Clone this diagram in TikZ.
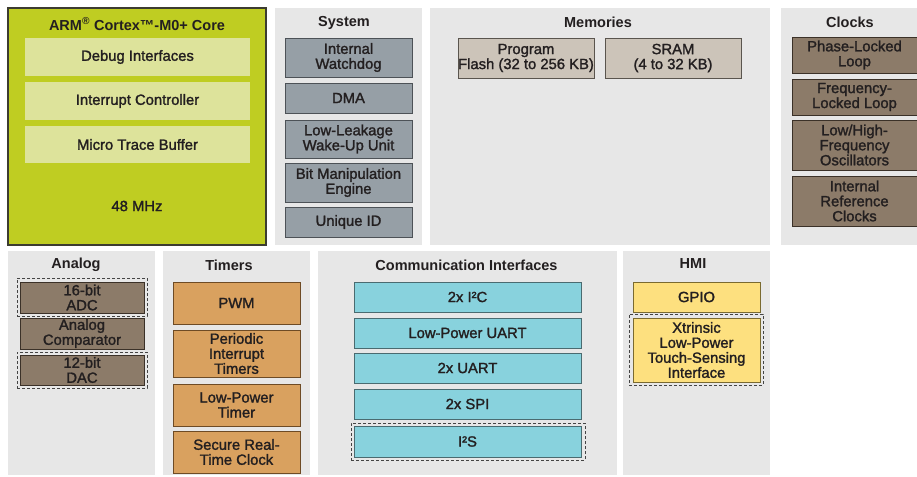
\documentclass[tikz,border=0pt]{standalone}
\usepackage{fontspec}
\setmainfont{Liberation Sans}
\newfontfamily\boxfont[FakeBold=1.6]{Liberation Sans}
\usetikzlibrary{positioning}

\definecolor{ink}{HTML}{231F20}
\definecolor{panelgray}{HTML}{E7E7E7}
\definecolor{coregreen}{HTML}{BFCD22}
\definecolor{coreedge}{HTML}{3C3C30}
\definecolor{coreinner}{HTML}{DDE39B}
\definecolor{sysgray}{HTML}{969FA6}
\definecolor{sysedge}{HTML}{4D5257}
\definecolor{membeige}{HTML}{CCC4B9}
\definecolor{memedge}{HTML}{5A554E}
\definecolor{clkbrown}{HTML}{8C7B69}
\definecolor{clkedge}{HTML}{3B3128}
\definecolor{tmrorange}{HTML}{D9A15F}
\definecolor{tmredge}{HTML}{6E4B25}
\definecolor{comcyan}{HTML}{88D2DD}
\definecolor{comedge}{HTML}{4A6B70}
\definecolor{hmiyellow}{HTML}{FDE07F}
\definecolor{hmiedge}{HTML}{7A6A30}
\definecolor{dashgray}{HTML}{444444}

\begin{document}
\begin{tikzpicture}[x=1pt,y=-1pt,inner sep=0pt,outer sep=0pt,text=ink]
  \tikzstyle{panel}=[fill=panelgray]
  \tikzstyle{title}=[font=\bfseries\fontsize{14.5}{15}\selectfont]
  \tikzstyle{unit}=[line width=0.9pt,align=center,font=\boxfont\fontsize{14.8}{15}\selectfont]
  \tikzstyle{coreunit}=[unit,fill=coreinner,minimum width=225pt]
  \tikzstyle{sysunit}=[unit,draw=sysedge,fill=sysgray,minimum width=127pt]
  \tikzstyle{memunit}=[unit,draw=memedge,fill=membeige,minimum width=136pt,minimum height=40pt]
  \tikzstyle{clkunit}=[unit,draw=clkedge,fill=clkbrown,minimum width=125pt]
  \tikzstyle{anaunit}=[unit,draw=clkedge,fill=clkbrown,minimum width=124pt]
  \tikzstyle{tmrunit}=[unit,draw=tmredge,fill=tmrorange,minimum width=127pt,minimum height=42pt]
  \tikzstyle{comunit}=[unit,draw=comedge,fill=comcyan,minimum width=227pt,minimum height=30pt]
  \tikzstyle{hmiunit}=[unit,draw=hmiedge,fill=hmiyellow,minimum width=127pt]
  \tikzstyle{optional}=[draw=dashgray,line width=1pt,dash pattern=on 3pt off 2pt]

  \fill[white] (0,0) rectangle (917,476);
  \useasboundingbox (0,0) rectangle (917,476);

  % top row
  \node[draw=coreedge,line width=1.4pt,fill=coregreen,minimum width=258pt,minimum height=237pt] (core) at (137,126.5) {};
  \node[panel,minimum width=147pt,minimum height=237pt] (system) at (348.5,126.5) {};
  \node[panel,minimum width=340pt,minimum height=237pt] (memories) at (600,126.5) {};
  \node[panel,minimum width=140pt,minimum height=237pt] (clocks) at (851,126.5) {};

  % bottom row
  \node[panel,minimum width=147pt,minimum height=224pt] (analog) at (81.5,363) {};
  \node[panel,minimum width=147pt,minimum height=224pt] (timers) at (236.5,363) {};
  \node[panel,minimum width=299pt,minimum height=224pt] (comm) at (467.5,363) {};
  \node[panel,minimum width=147pt,minimum height=224pt] (hmi) at (696.5,363) {};

  % titles
  \node[title] (core title) at (137,24) {ARM\textsuperscript{®} Cortex™-M0+ Core};
  \node[title] (system title) at (344,23) {System};
  \node[title] (memories title) at (598,22) {Memories};
  \node[title] (clocks title) at (850,22) {Clocks};
  \node[title] (analog title) at (76,265) {Analog};
  \node[title] (timers title) at (229,265) {Timers};
  \node[title] (comm title) at (466.5,265) {Communication Interfaces};
  \node[title] (hmi title) at (693,264) {HMI};

  % core
  \node[coreunit,minimum height=38pt] (debug) at (137.5,57) {Debug Interfaces};
  \node[coreunit,minimum height=38pt] (nvic) at (137.5,101) {Interrupt Controller};
  \node[coreunit,minimum height=37pt] (mtb) at (137.5,144.5) {Micro Trace Buffer};
  \node[unit] (freq) at (137,206) {48 MHz};

  % system
  \node[sysunit,minimum height=39pt] (wdog) at (348.5,57.5) {Internal\\Watchdog};
  \node[sysunit,minimum height=30pt] (dma) at (348.5,98) {DMA};
  \node[sysunit,minimum height=38pt] (llwu) at (348.5,139) {Low-Leakage\\Wake-Up Unit};
  \node[sysunit,minimum height=39pt] (bme) at (348.5,182.5) {Bit Manipulation\\Engine};
  \node[sysunit,minimum height=30pt] (uid) at (348.5,222) {Unique ID};

  % memories
  \node[memunit] (flash) at (526,58) {Program\\Flash (32 to 256 KB)};
  \node[memunit] (sram) at (673,58) {SRAM\\(4 to 32 KB)};

  % clocks
  \node[clkunit,minimum height=36pt] (pll) at (854.5,55) {Phase-Locked\\Loop};
  \node[clkunit,minimum height=36pt] (fll) at (854.5,97) {Frequency-\\Locked Loop};
  \node[clkunit,minimum height=50pt] (osc) at (854.5,145) {Low/High-\\Frequency\\Oscillators};
  \node[clkunit,minimum height=50pt] (irc) at (854.5,201) {Internal\\Reference\\Clocks};

  % analog
  \node[optional,minimum width=130pt,minimum height=38pt] (adc frame) at (82,297) {};
  \node[anaunit,minimum height=31pt] (adc) at (82,297.5) {16-bit\\ADC};
  \node[anaunit,minimum height=31pt] (cmp) at (82,333.5) {Analog\\Comparator};
  \node[optional,minimum width=130pt,minimum height=36pt] (dac frame) at (82,370) {};
  \node[anaunit,minimum height=30pt] (dac) at (82,370) {12-bit\\DAC};

  % timers
  \node[tmrunit] (pwm) at (236.5,303) {PWM};
  \node[tmrunit,minimum height=47pt] (pit) at (236.5,353.5) {Periodic\\Interrupt\\Timers};
  \node[tmrunit] (lptmr) at (236.5,405) {Low-Power\\Timer};
  \node[tmrunit] (rtc) at (236.5,452) {Secure Real-\\Time Clock};

  % communication interfaces
  \node[comunit] (i2c) at (467.5,297) {2x I²C};
  \node[comunit] (lpuart) at (467.5,333) {Low-Power UART};
  \node[comunit] (uart) at (467.5,368) {2x UART};
  \node[comunit] (spi) at (467.5,404) {2x SPI};
  \node[optional,minimum width=234pt,minimum height=37pt] (i2s frame) at (468,441.5) {};
  \node[comunit,minimum height=31pt] (i2s) at (467.5,441.5) {I²S};

  % hmi
  \node[hmiunit,minimum height=30pt] (gpio) at (696.5,297) {GPIO};
  \node[optional,minimum width=134pt,minimum height=71pt] (tsi frame) at (696,349.5) {};
  \node[hmiunit,minimum height=64pt] (tsi) at (696.5,350) {Xtrinsic\\Low-Power\\Touch-Sensing\\Interface};
\end{tikzpicture}
\end{document}
